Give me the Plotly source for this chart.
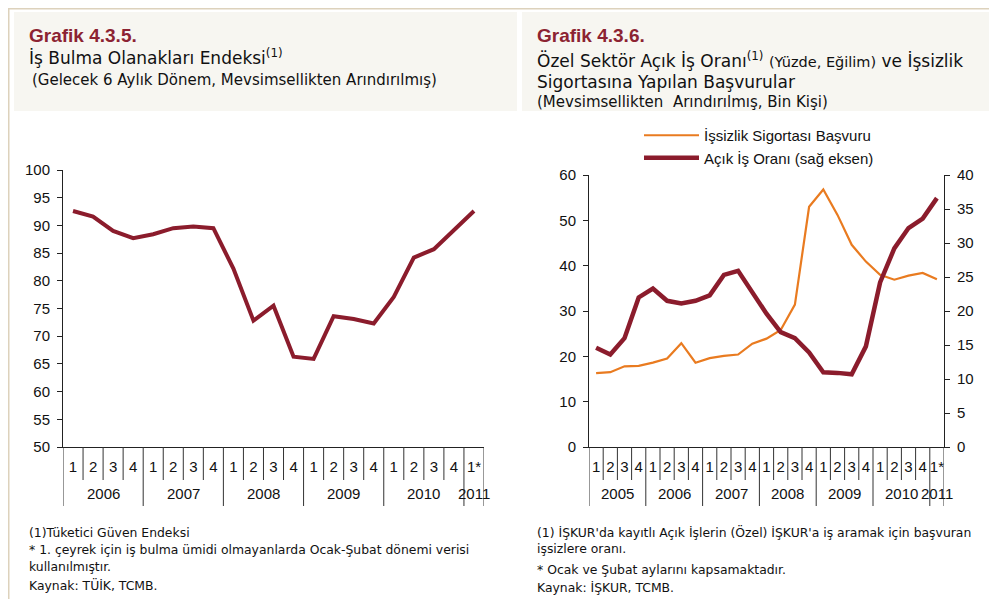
import plotly.graph_objects as go

# ---------------- data ----------------
left_years = ["2006", "2007", "2008", "2009", "2010", "2011"]
left_quarters = ["1", "2", "3", "4"] * 5 + ["1*"]
left_index = [92.6, 91.6, 89.0, 87.7, 88.4, 89.5, 89.8, 89.5,
              82.2, 72.8, 75.5, 66.3, 65.9, 73.6, 73.1, 72.3,
              77.1, 84.2, 85.7, 89.2, 92.6]

right_years = ["2005", "2006", "2007", "2008", "2009", "2010", "2011"]
right_quarters = ["1", "2", "3", "4"] * 6 + ["1*"]
insurance_apps = [16.3, 16.5, 17.8, 17.9, 18.6, 19.5, 22.9, 18.6,
                  19.6, 20.1, 20.4, 22.8, 23.9, 25.8, 31.4, 53.0,
                  56.8, 51.2, 44.6, 40.9, 38.0, 36.9, 37.8, 38.4, 37.0]
vacancy_rate = [14.6, 13.6, 16.0, 22.0, 23.3, 21.5, 21.1, 21.5,
                22.3, 25.3, 25.9, 22.6, 19.6, 16.9, 16.0, 13.9,
                11.0, 10.9, 10.7, 14.8, 24.2, 29.2, 32.2, 33.6, 36.6]

# ---------------- styling ----------------
OFF = 8                      # page body margin
W, H = 997 - OFF, 599 - OFF  # figure size so the page fits the window
DARK_RED = "#8B1C2C"
ORANGE = "#E97B20"
TITLE_RED = "#8C2332"
HEADER_BG = "#F7F6F1"
BORDER = "#DDD2BC"
AX_FONT = dict(family="Liberation Sans, Arial", size=15, color="#111")
TXT_FONT = "DejaVu Sans"


def px(x):
    """screen x (pixels) -> paper fraction"""
    return max(0.0, (x - OFF) / W)


def py(y):
    """screen y (pixels) -> paper fraction"""
    return min(1.0, 1 - (y - OFF) / H)


fig = go.Figure()

xl = list(range(len(left_index)))
xr = list(range(len(insurance_apps)))

fig.add_trace(go.Scatter(x=xl, y=left_index, mode="lines", xaxis="x", yaxis="y",
                         line=dict(color=DARK_RED, width=4), showlegend=False))
fig.add_trace(go.Scatter(x=xr, y=insurance_apps, mode="lines", xaxis="x2", yaxis="y2",
                         name="İşsizlik Sigortası Başvuru",
                         line=dict(color=ORANGE, width=2.2)))
fig.add_trace(go.Scatter(x=xr, y=vacancy_rate, mode="lines", xaxis="x2", yaxis="y3",
                         name="Açık İş Oranı (sağ eksen)",
                         line=dict(color=DARK_RED, width=4.5)))

L_X0, L_X1, L_Y0, L_Y1 = 63, 484, 447, 170
R_X0, R_X1, R_Y0, R_Y1 = 589, 944, 447, 175

yax_common = dict(showgrid=False, zeroline=False, showline=True, linecolor="#222",
                  linewidth=1, ticks="outside", ticklen=5, tickcolor="#222",
                  tickfont=AX_FONT, ticklabelstandoff=4, automargin=False)
xax_common = dict(showgrid=False, zeroline=False, showline=True, linecolor="#222",
                  linewidth=1, ticks="", tickfont=AX_FONT, ticklabelstandoff=6,
                  automargin=False)

fig.update_layout(
    width=W, height=H, margin=dict(l=0, r=0, t=0, b=0, autoexpand=False),
    paper_bgcolor="white", plot_bgcolor="rgba(0,0,0,0)",
    xaxis=dict(domain=[px(L_X0), px(L_X1)], anchor="y", range=[-0.5, len(xl) - 0.5],
               tickmode="array", tickvals=xl, ticktext=left_quarters, **xax_common),
    yaxis=dict(domain=[py(L_Y0), py(L_Y1)], anchor="x", range=[50, 100], dtick=5,
               **yax_common),
    xaxis2=dict(domain=[px(R_X0), px(R_X1)], anchor="y2", range=[-0.5, len(xr) - 0.5],
                tickmode="array", tickvals=xr, ticktext=right_quarters, **xax_common),
    yaxis2=dict(domain=[py(R_Y0), py(R_Y1)], anchor="x2", range=[0, 60], dtick=10,
                **yax_common),
    yaxis3=dict(overlaying="y2", side="right", anchor="x2", range=[0, 40], dtick=5,
                **yax_common),
    legend=dict(x=px(639), y=py(119), xanchor="left", yanchor="top",
                bgcolor="rgba(0,0,0,0)", font=dict(family="Liberation Sans, Arial", size=15, color="#111"),
                itemwidth=55, tracegroupgap=0),
)

shapes = []
# frame
shapes.append(dict(type="line", xref="paper", yref="paper", x0=px(7), x1=1, y0=py(8.5), y1=py(8.5),
                   line=dict(color=BORDER, width=2), layer="below"))
shapes.append(dict(type="line", xref="paper", yref="paper", x0=px(8.5), x1=px(8.5), y0=py(8), y1=0,
                   line=dict(color=BORDER, width=2), layer="below"))
# header boxes
shapes.append(dict(type="rect", xref="paper", yref="paper", x0=px(14), x1=px(517), y0=py(111), y1=py(12),
                   fillcolor=HEADER_BG, line=dict(width=0), layer="below"))
shapes.append(dict(type="rect", xref="paper", yref="paper", x0=px(522), x1=1, y0=py(111), y1=py(12),
                   fillcolor=HEADER_BG, line=dict(width=0), layer="below"))


def separators(xref, n):
    out = []
    for b in range(n + 1):
        long = (b % 4 == 0) or b == n
        y_end = 506 if long else 480
        out.append(dict(type="line", xref=xref, yref="paper", x0=b - 0.5, x1=b - 0.5,
                        y0=py(447), y1=py(y_end), line=dict(color="#333", width=1)))
    return out


shapes += separators("x", len(xl))
shapes += separators("x2", len(xr))
fig.update_layout(shapes=shapes)

ann = []


def year_labels(xref, years, n):
    out = []
    for i, yr in enumerate(years):
        start = i * 4
        end = min(start + 3, n - 1)
        out.append(dict(xref=xref, yref="paper", x=(start + end) / 2, y=py(493),
                        text=yr, showarrow=False, font=AX_FONT, xanchor="center", yanchor="middle"))
    return out


ann += year_labels("x", left_years, len(xl))
ann += year_labels("x2", right_years, len(xr))


def text(x, y, t, size, color="#111", family=TXT_FONT, anchor="left"):
    return dict(xref="paper", yref="paper", x=px(x), y=py(y), text=t, showarrow=False,
                xanchor=anchor, yanchor="middle", align="left",
                font=dict(family=family, size=size, color=color))


# headers
ann.append(text(27, 35, "<b>Grafik 4.3.5.</b>", 19, TITLE_RED, "Liberation Sans, Arial"))
ann.append(text(27, 57, "İş Bulma Olanakları Endeksi<sup>(1)</sup>", 17))
ann.append(text(30, 80, "(Gelecek 6 Aylık Dönem, Mevsimsellikten Arındırılmış)", 15))

ann.append(text(535, 35, "<b>Grafik 4.3.6.</b>", 19, TITLE_RED, "Liberation Sans, Arial"))
ann.append(text(535, 60, "Özel Sektör Açık İş Oranı<sup>(1)</sup> "
                        "<span style='font-size:14.5px'>(Yüzde, Eğilim)</span> ve İşsizlik", 17))
ann.append(text(535, 82, "Sigortasına Yapılan Başvurular", 17))
ann.append(text(535, 102, "(Mevsimsellikten  Arındırılmış, Bin Kişi)", 15))

# footnotes
FN = 12.4
ann.append(text(27, 532, "(1)Tüketici Güven Endeksi", FN))
ann.append(text(27, 549, "* 1. çeyrek için iş bulma ümidi olmayanlarda Ocak-Şubat dönemi verisi", FN))
ann.append(text(27, 566, "kullanılmıştır.", FN))
ann.append(text(27, 585, "Kaynak: TÜİK, TCMB.", FN))

ann.append(text(535, 532, "(1) İŞKUR'da kayıtlı Açık İşlerin (Özel) İŞKUR'a iş aramak için başvuran", FN))
ann.append(text(535, 548, "işsizlere oranı.", FN))
ann.append(text(535, 569, "* Ocak ve Şubat aylarını kapsamaktadır.", FN))
ann.append(text(535, 587, "Kaynak: İŞKUR, TCMB.", FN))

fig.update_layout(annotations=ann)

fig.write_html("out.html")
